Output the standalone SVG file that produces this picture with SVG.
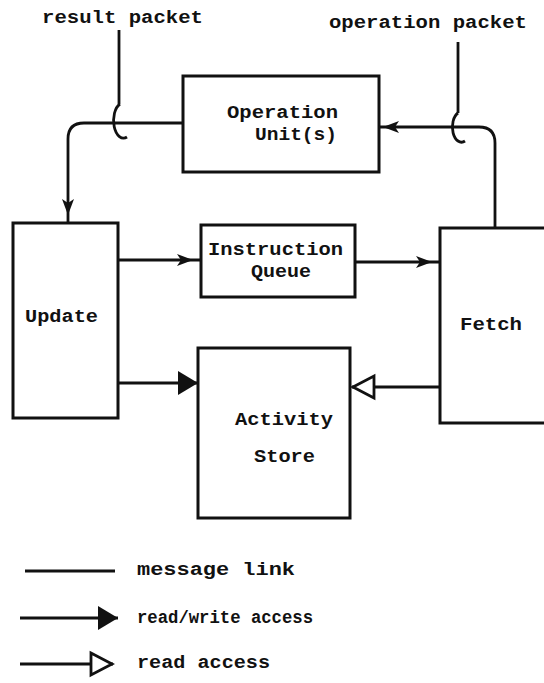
<svg xmlns="http://www.w3.org/2000/svg" width="544" height="683" viewBox="0 0 544 683">
  <style>
    .box { fill: none; stroke: #111; stroke-width: 3; }
    .link { fill: none; stroke: #111; stroke-width: 2.8; }
    .lbl { font-family: "Liberation Mono", "DejaVu Sans Mono", monospace; font-weight: bold; font-size: 19px; fill: #111; }
  </style>
  <defs>
    <!-- small barbed arrowhead for message links, set back a few px from the line end -->
    <marker id="msg" markerUnits="userSpaceOnUse" viewBox="0 -8 30 16" markerWidth="30" markerHeight="16" refX="24" refY="0" orient="auto">
      <path d="M0,-6 L16,0 L0,6 L4,0 Z" fill="#111"/>
    </marker>
    <marker id="msgNear" markerUnits="userSpaceOnUse" viewBox="0 -8 24 16" markerWidth="24" markerHeight="16" refX="20" refY="0" orient="auto">
      <path d="M0,-6 L16,0 L0,6 L4,0 Z" fill="#111"/>
    </marker>
    <!-- read/write access: solid triangle -->
    <marker id="rw" markerUnits="userSpaceOnUse" viewBox="0 -13 20 26" markerWidth="20" markerHeight="26" refX="20" refY="0" orient="auto">
      <path d="M0,-12 L20,0 L0,12 Z" fill="#111"/>
    </marker>
    <!-- read access: hollow triangle -->
    <marker id="rd" markerUnits="userSpaceOnUse" viewBox="-2 -14 26 28" markerWidth="26" markerHeight="28" refX="22" refY="0" orient="auto">
      <path d="M0,-11 L21,0 L0,11 Z" fill="#fff" stroke="#111" stroke-width="2.8"/>
    </marker>
  </defs>

  <rect width="544" height="683" fill="#fff"/>

  <!-- external packet labels -->
  <text class="lbl" x="42" y="23" textLength="161" lengthAdjust="spacingAndGlyphs">result packet</text>
  <text class="lbl" x="329" y="28" textLength="198" lengthAdjust="spacingAndGlyphs">operation packet</text>

  <g id="operation-unit">
    <rect class="box" x="183" y="76" width="196" height="96"/>
    <text class="lbl" x="227" y="118" textLength="111" lengthAdjust="spacingAndGlyphs">Operation</text>
    <text class="lbl" x="255" y="140" textLength="82" lengthAdjust="spacingAndGlyphs">Unit(s)</text>
  </g>

  <g id="update">
    <rect class="box" x="13" y="223" width="105" height="195"/>
    <text class="lbl" x="25" y="322" textLength="73" lengthAdjust="spacingAndGlyphs">Update</text>
  </g>

  <g id="instruction-queue">
    <rect class="box" x="201" y="225" width="154" height="72"/>
    <text class="lbl" x="208" y="255" textLength="135" lengthAdjust="spacingAndGlyphs">Instruction</text>
    <text class="lbl" x="251" y="277" textLength="60" lengthAdjust="spacingAndGlyphs">Queue</text>
  </g>

  <g id="fetch">
    <path class="box" d="M548,228 H440 V423 H548"/>
    <text class="lbl" x="460" y="330" textLength="62" lengthAdjust="spacingAndGlyphs">Fetch</text>
  </g>

  <g id="activity-store">
    <rect class="box" x="198" y="348" width="152" height="170"/>
    <text class="lbl" x="235" y="425" textLength="98" lengthAdjust="spacingAndGlyphs">Activity</text>
    <text class="lbl" x="254" y="462" textLength="61" lengthAdjust="spacingAndGlyphs">Store</text>
  </g>

  <g id="connectors">
    <!-- result packet tap: line ending in an open loop around the link -->
    <path class="link" d="M119,30 V104"/>
    <path class="link" d="M120,104 A9,16 0 1,0 127,137"/>
    <!-- operation packet tap -->
    <path class="link" d="M458,42 V113"/>
    <path class="link" d="M458,113 A9,15 0 1,0 465,141"/>
    <!-- Operation Unit -> Update -->
    <path class="link" d="M183,123 H84 Q68,123 68,139 V223" marker-end="url(#msg)"/>
    <!-- Fetch -> Operation Unit -->
    <path class="link" d="M495,228 V143 Q495,127 479,127 H379" marker-end="url(#msgNear)"/>
    <!-- Update -> Instruction Queue -->
    <path class="link" d="M118,260 H201" marker-end="url(#msg)"/>
    <!-- Instruction Queue -> Fetch -->
    <path class="link" d="M355,262 H440" marker-end="url(#msg)"/>
    <!-- Update -> Activity Store (read/write) -->
    <path class="link" d="M118,383 H198" marker-end="url(#rw)"/>
    <!-- Fetch -> Activity Store (read) -->
    <path class="link" d="M440,387 H352" marker-end="url(#rd)"/>
  </g>

  <g id="legend">
    <path class="link" d="M25,571 H115"/>
    <text class="lbl" x="137" y="575" textLength="158" lengthAdjust="spacingAndGlyphs">message link</text>
    <path class="link" d="M20,618 H118" marker-end="url(#rw)"/>
    <text class="lbl" x="137" y="623" textLength="176" lengthAdjust="spacingAndGlyphs">read/write access</text>
    <path class="link" d="M20,664 H113" marker-end="url(#rd)"/>
    <text class="lbl" x="137" y="668" textLength="133" lengthAdjust="spacingAndGlyphs">read access</text>
  </g>
</svg>
